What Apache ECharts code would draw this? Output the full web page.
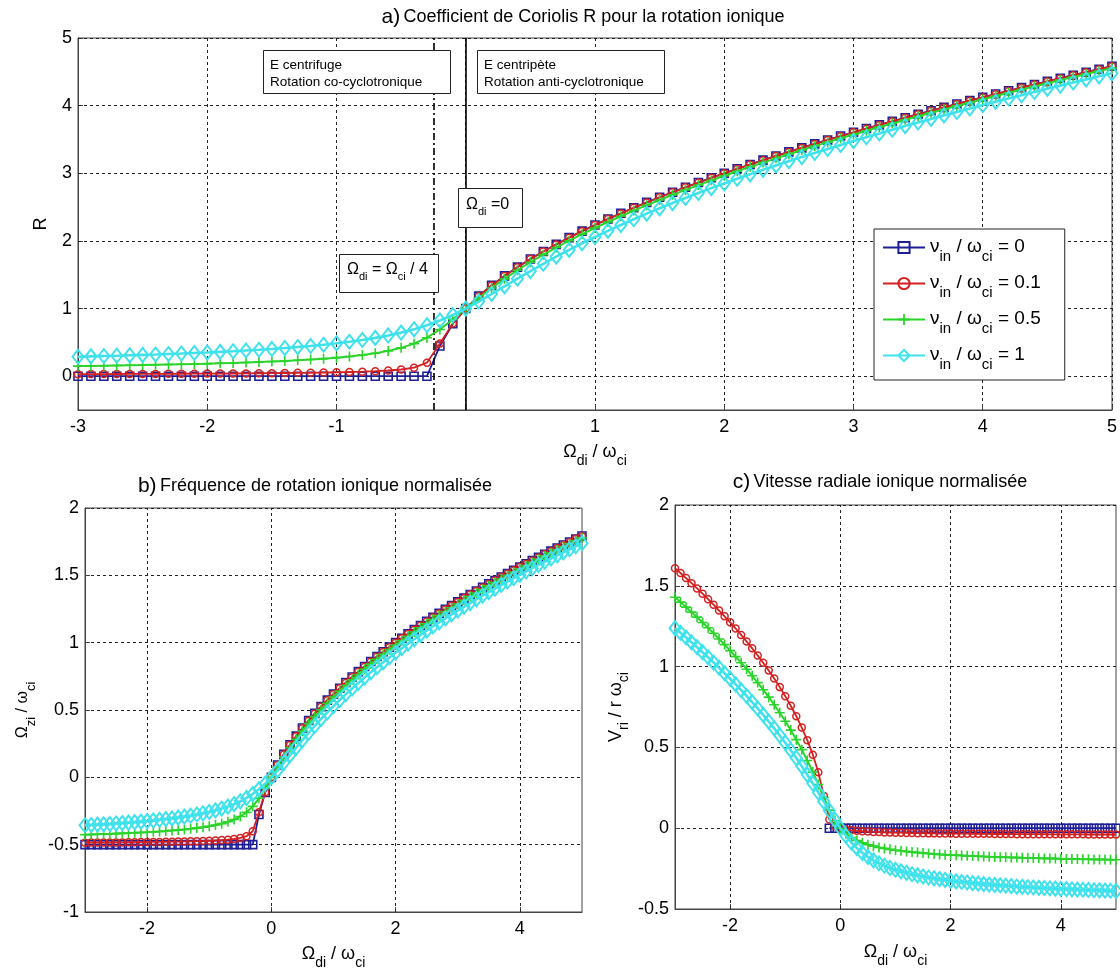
<!DOCTYPE html>
<html><head><meta charset="utf-8">
<script src="https://cdn.jsdelivr.net/npm/echarts@6/dist/echarts.min.js"></script>
<style>html,body{margin:0;padding:0;background:#fff}#c{width:1120px;height:972px}</style>
</head><body><div id="c"></div>
<script>
// ---------------- DATA ----------------
const xs = [-3,-2.9,-2.8,-2.7,-2.6,-2.5,-2.4,-2.3,-2.2,-2.1,-2,-1.9,-1.8,-1.7,-1.6,-1.5,-1.4,-1.3,-1.2,-1.1,-1,-0.9,-0.8,-0.7,-0.6,-0.5,-0.4,-0.3,-0.2,-0.1,0,0.1,0.2,0.3,0.4,0.5,0.6,0.7,0.8,0.9,1,1.1,1.2,1.3,1.4,1.5,1.6,1.7,1.8,1.9,2,2.1,2.2,2.3,2.4,2.5,2.6,2.7,2.8,2.9,3,3.1,3.2,3.3,3.4,3.5,3.6,3.7,3.8,3.9,4,4.1,4.2,4.3,4.4,4.5,4.6,4.7,4.8,4.9,5];

const legendValues = ['0', '0.1', '0.5', '1'];

// a) Coriolis coefficient R
const R_nu0 = [0,0,0,0,0,0,0,0,0,0, 0,0,0,0,0,0,0,0,0,0, 0,0,0,0,0,0,0,0,0.447,0.775, 1,
 1.183,1.342,1.483,1.612,1.732,1.844,1.949,2.049,2.145,2.236, 2.324,2.408,2.490,2.569,2.646,2.720,2.793,2.864,2.933,3.000,
 3.066,3.130,3.194,3.256,3.317,3.376,3.435,3.493,3.550,3.606, 3.661,3.715,3.768,3.821,3.873,3.924,3.975,4.025,4.074,4.123,
 4.171,4.219,4.266,4.313,4.359,4.405,4.450,4.494,4.539,4.583];
const R_nu01 = [0.030,0.031,0.031,0.032,0.033,0.033,0.034,0.035,0.036,0.037, 0.038,0.039,0.040,0.041,0.043,0.045,0.047,0.049,0.051,0.054,
 0.058,0.062,0.067,0.074,0.084,0.099,0.126,0.200,0.483,0.779, 1.000,
 1.182,1.341,1.482,1.611,1.731,1.843,1.948,2.048,2.144,2.235, 2.323,2.407,2.489,2.568,2.645,2.719,2.792,2.863,2.932,2.999,
 3.065,3.129,3.193,3.255,3.316,3.375,3.434,3.492,3.549,3.605, 3.660,3.714,3.767,3.820,3.872,3.923,3.974,4.024,4.073,4.122,
 4.170,4.218,4.265,4.312,4.358,4.404,4.449,4.493,4.538,4.582];
const R_nu05 = [0.149,0.152,0.155,0.158,0.161,0.164,0.168,0.172,0.176,0.180, 0.185,0.191,0.196,0.203,0.210,0.217,0.226,0.236,0.247,0.259,
 0.274,0.292,0.313,0.340,0.374,0.419,0.481,0.569,0.690,0.840, 1.000,
 1.156,1.303,1.439,1.566,1.685,1.797,1.902,2.003,2.099,2.191, 2.280,2.365,2.448,2.528,2.605,2.681,2.754,2.825,2.895,2.963,
 3.029,3.095,3.158,3.221,3.282,3.343,3.402,3.460,3.517,3.574, 3.629,3.684,3.737,3.790,3.843,3.894,3.945,3.996,4.045,4.095,
 4.143,4.191,4.238,4.285,4.332,4.378,4.423,4.468,4.513,4.557];
const R_nu1 = [0.288,0.293,0.298,0.303,0.309,0.315,0.321,0.328,0.335,0.343, 0.351,0.360,0.369,0.380,0.391,0.403,0.416,0.431,0.447,0.465,
 0.486,0.509,0.536,0.566,0.602,0.644,0.693,0.753,0.823,0.905, 1.000,
 1.104,1.215,1.329,1.442,1.554,1.662,1.767,1.867,1.965,2.058, 2.149,2.236,2.321,2.403,2.482,2.560,2.635,2.709,2.780,2.850,
 2.919,2.985,3.051,3.115,3.178,3.240,3.300,3.360,3.418,3.476, 3.533,3.589,3.644,3.698,3.751,3.804,3.856,3.907,3.958,4.008,
 4.057,4.106,4.154,4.202,4.249,4.296,4.342,4.388,4.433,4.478];

// b) normalized ion rotation frequency
const Om_nu0 = [-0.5,-0.5,-0.5,-0.5,-0.5,-0.5,-0.5,-0.5,-0.5,-0.5, -0.5,-0.5,-0.5,-0.5,-0.5,-0.5,-0.5,-0.5,-0.5,-0.5,
 -0.5,-0.5,-0.5,-0.5,-0.5,-0.5,-0.5,-0.5,-0.276,-0.113, 0,
 0.092,0.171,0.242,0.306,0.366,0.422,0.475,0.525,0.573,0.618, 0.662,0.704,0.745,0.785,0.823,0.860,0.897,0.932,0.967,1.000,
 1.033,1.065,1.097,1.128,1.159,1.188,1.218,1.247,1.275,1.303, 1.331,1.358,1.384,1.411,1.437,1.462,1.488,1.513,1.537,1.562,
 1.586,1.610,1.633,1.657,1.680,1.703,1.725,1.747,1.770,1.792];
const Om_nu01 = [-0.485,-0.484,-0.484,-0.484,-0.484,-0.483,-0.483,-0.482,-0.482,-0.481, -0.481,-0.480,-0.480,-0.479,-0.478,-0.477,-0.476,-0.475,-0.474,-0.473,
 -0.471,-0.469,-0.466,-0.463,-0.458,-0.450,-0.437,-0.400,-0.259,-0.111, 0,
 0.091,0.170,0.241,0.305,0.365,0.421,0.474,0.524,0.572,0.617, 0.661,0.703,0.744,0.784,0.822,0.859,0.896,0.931,0.966,0.999,
 1.032,1.064,1.096,1.127,1.158,1.187,1.217,1.246,1.274,1.302, 1.330,1.357,1.383,1.410,1.436,1.461,1.487,1.512,1.536,1.561,
 1.585,1.609,1.632,1.656,1.679,1.702,1.724,1.746,1.769,1.791];
const Om_nu05 = [-0.426,-0.424,-0.423,-0.421,-0.420,-0.418,-0.416,-0.414,-0.412,-0.410, -0.408,-0.405,-0.402,-0.399,-0.395,-0.392,-0.387,-0.382,-0.377,-0.371,
 -0.363,-0.354,-0.344,-0.330,-0.313,-0.291,-0.260,-0.216,-0.155,-0.080, 0,
 0.078,0.152,0.220,0.283,0.343,0.399,0.451,0.502,0.550,0.596, 0.640,0.683,0.724,0.764,0.803,0.841,0.877,0.913,0.948,0.982,
 1.015,1.048,1.079,1.111,1.141,1.172,1.201,1.230,1.259,1.287, 1.315,1.342,1.369,1.395,1.422,1.447,1.473,1.498,1.523,1.548,
 1.572,1.596,1.619,1.643,1.666,1.689,1.712,1.734,1.757,1.779];
const Om_nu1 = [-0.356,-0.354,-0.351,-0.349,-0.346,-0.343,-0.340,-0.336,-0.333,-0.329, -0.325,-0.320,-0.315,-0.310,-0.305,-0.299,-0.292,-0.285,-0.276,-0.267,
 -0.257,-0.246,-0.232,-0.217,-0.199,-0.178,-0.153,-0.124,-0.089,-0.047, 0,
 0.052,0.108,0.165,0.221,0.277,0.331,0.383,0.434,0.482,0.529, 0.574,0.618,0.660,0.701,0.741,0.780,0.818,0.854,0.890,0.925,
 0.959,0.993,1.025,1.058,1.089,1.120,1.150,1.180,1.209,1.238, 1.266,1.294,1.322,1.349,1.376,1.402,1.428,1.454,1.479,1.504,
 1.529,1.553,1.577,1.601,1.625,1.648,1.671,1.694,1.716,1.739];

// c) normalized ion radial velocity
const Vr_nu0 = [null,null,null,null,null,null,null,null,null,null, null,null,null,null,null,null,null,null,null,null,
 null,null,null,null,null,null,null,null,0,0, 0,
 0,0,0,0,0,0,0,0,0,0, 0,0,0,0,0,0,0,0,0,0, 0,0,0,0,0,0,0,0,0,0, 0,0,0,0,0,0,0,0,0,0, 0,0,0,0,0,0,0,0,0,0];
const Vr_nu01 = [1.609,1.579,1.548,1.516,1.484,1.451,1.417,1.383,1.347,1.311, 1.274,1.236,1.196,1.155,1.113,1.069,1.024,0.976,0.926,0.873,
 0.817,0.758,0.693,0.623,0.545,0.455,0.346,0.200,0.054,0.014, 0,
 -0.008,-0.013,-0.016,-0.019,-0.021,-0.023,-0.024,-0.026,-0.027,-0.028, -0.028,-0.029,-0.030,-0.031,-0.031,-0.032,-0.032,-0.033,-0.033,-0.033,
 -0.034,-0.034,-0.034,-0.035,-0.035,-0.035,-0.035,-0.036,-0.036,-0.036, -0.036,-0.037,-0.037,-0.037,-0.037,-0.037,-0.037,-0.038,-0.038,-0.038,
 -0.038,-0.038,-0.038,-0.038,-0.039,-0.039,-0.039,-0.039,-0.039,-0.039];
const Vr_nu05 = [1.429,1.399,1.368,1.337,1.306,1.273,1.240,1.206,1.171,1.136, 1.099,1.062,1.024,0.984,0.943,0.901,0.857,0.811,0.764,0.714,
 0.662,0.607,0.548,0.486,0.419,0.347,0.270,0.190,0.112,0.048, 0,
 -0.034,-0.058,-0.076,-0.090,-0.102,-0.111,-0.119,-0.125,-0.131,-0.136, -0.140,-0.144,-0.148,-0.151,-0.154,-0.157,-0.159,-0.162,-0.164,-0.166,
 -0.167,-0.169,-0.171,-0.172,-0.174,-0.175,-0.177,-0.178,-0.179,-0.180, -0.181,-0.182,-0.183,-0.184,-0.185,-0.186,-0.187,-0.187,-0.188,-0.189,
 -0.190,-0.190,-0.191,-0.192,-0.192,-0.193,-0.193,-0.194,-0.195,-0.195];
const Vr_nu1 = [1.238,1.209,1.180,1.150,1.120,1.089,1.058,1.025,0.993,0.959, 0.925,0.890,0.854,0.818,0.780,0.741,0.701,0.660,0.618,0.574,
 0.529,0.482,0.434,0.383,0.331,0.277,0.221,0.164,0.108,0.052, 0,
 -0.047,-0.089,-0.124,-0.153,-0.178,-0.199,-0.217,-0.232,-0.246,-0.257, -0.267,-0.276,-0.285,-0.292,-0.299,-0.305,-0.310,-0.315,-0.320,-0.325,
 -0.329,-0.333,-0.336,-0.340,-0.343,-0.346,-0.349,-0.351,-0.354,-0.356, -0.358,-0.361,-0.363,-0.365,-0.367,-0.369,-0.370,-0.372,-0.374,-0.375,
 -0.377,-0.378,-0.380,-0.381,-0.382,-0.384,-0.385,-0.386,-0.387,-0.388];

// tick labels
const xTicksA = [-3,-2,-1,0,1,2,3,4,5];
const yTicksA = [0,1,2,3,4,5];
const xTicksBC = [-2,0,2,4];
// annotation lines (panel a)
const lineOmegaZero = 0;
const lineOmegaQuarter = -0.25;

// ---------------- CHART ----------------
const F = "'Liberation Sans', Arial, Helvetica, sans-serif";
const PLUS = 'path://M4.2,0H5.8V4.2H10V5.8H5.8V10H4.2V5.8H0V4.2H4.2Z';
const styles = [
  {color:'#1e1e98', symbol:'rect', size:8, lw:1.8, fill:'rgba(255,255,255,0)', bw:1.6},
  {color:'#d42020', symbol:'circle', size:7, lw:1.8, fill:'rgba(255,255,255,0)', bw:1.5},
  {color:'#2ad42a', symbol:PLUS, size:10, lw:2, fill:'#2ad42a', bw:0},
  {color:'#3ee2ec', symbol:'diamond', size:[11,14], lw:2.6, fill:'rgba(255,255,255,0)', bw:2}
];
const names = ['s0','s1','s2','s3'];
const panels = [
  [R_nu0, R_nu01, R_nu05, R_nu1],
  [Om_nu0, Om_nu01, Om_nu05, Om_nu1],
  [Vr_nu0, Vr_nu01, Vr_nu05, Vr_nu1]
];

const subRich = (m, s, pad) => ({
  m: {fontSize: m, fontFamily: F, color: '#000', lineHeight: m + 2, verticalAlign: 'top'},
  s: {fontSize: s, fontFamily: F, color: '#000', lineHeight: s, padding: [pad, 0, 0, 0], verticalAlign: 'top'}
});
const xName = '{m|Ω}{s|di}{m| / ω}{s|ci}';

const gridLineStyle = {color: '#222', type: [3, 3], width: 1};
const axisCommon = {
  axisLine: {show: true, onZero: false, lineStyle: {color: '#444', width: 1}},
  axisTick: {show: true, inside: true, length: 5, lineStyle: {color: '#444'}},
  axisLabel: {color: '#000', fontSize: 18, fontFamily: F, margin: 8}
};

function mkGridSeries(gi, xv, yv) {
  const d = [];
  xv.forEach(v => d.push({xAxis: v}));
  yv.forEach(v => d.push({yAxis: v}));
  return {
    type: 'line', xAxisIndex: gi, yAxisIndex: gi, data: [], silent: true, z: 1,
    markLine: {silent: true, z: 1, symbol: ['none', 'none'], label: {show: false},
      lineStyle: gridLineStyle, emphasis: {disabled: true}, animation: false, data: d}
  };
}

const series = [];
series.push(mkGridSeries(0, [], yTicksA));
series.push(mkGridSeries(1, xTicksBC, []));
series.push(mkGridSeries(2, xTicksBC, []));
series.push({
  type: 'line', xAxisIndex: 0, yAxisIndex: 0, data: [], silent: true, z: 1,
  markLine: {silent: true, z: 3, symbol: ['none', 'none'], label: {show: false}, animation: false,
    emphasis: {disabled: true},
    data: [
      {xAxis: lineOmegaZero, lineStyle: {color: '#000', type: 'solid', width: 1.6}},
      {xAxis: lineOmegaQuarter, lineStyle: {color: '#000', type: [7, 3, 2, 3], width: 1.6}}
    ]}
});
panels.forEach((arrs, gi) => {
  arrs.forEach((ys, k) => {
    const st = styles[k];
    series.push({
      name: names[k], type: 'line', xAxisIndex: gi, yAxisIndex: gi,
      data: xs.map((x, i) => [x, ys[i]]),
      symbol: st.symbol, symbolSize: st.size, showSymbol: true, clip: false,
      color: st.color,
      lineStyle: {color: st.color, width: st.lw},
      itemStyle: {color: st.fill, borderColor: st.color, borderWidth: st.bw},
      emphasis: {disabled: true}, animation: false, z: 2 + k
    });
  });
});

const gridBox = {show: true, borderColor: '#444', borderWidth: 1, backgroundColor: 'rgba(0,0,0,0)'};

const option = {
  backgroundColor: '#fff',
  animation: false,
  grid: [
    Object.assign({left: 78, top: 38, width: 1038, height: 372}, gridBox),
    Object.assign({left: 85, top: 508, width: 497, height: 404}, gridBox),
    Object.assign({left: 675, top: 505, width: 441, height: 404}, gridBox)
  ],
  xAxis: [
    Object.assign({}, axisCommon, {gridIndex: 0, type: 'value', min: -3, max: 5, interval: 1,
      axisLabel: Object.assign({}, axisCommon.axisLabel, {formatter: v => (v === 0 ? '' : String(v))}),
      splitLine: {show: true, lineStyle: gridLineStyle},
      name: xName, nameLocation: 'middle', nameGap: 33, nameTextStyle: {rich: subRich(18, 14, 11)}}),
    Object.assign({}, axisCommon, {gridIndex: 1, type: 'value', min: -3, max: 5,
      axisLabel: Object.assign({}, axisCommon.axisLabel, {customValues: xTicksBC}),
      axisTick: Object.assign({}, axisCommon.axisTick, {customValues: xTicksBC}),
      splitLine: {show: false},
      name: xName, nameLocation: 'middle', nameGap: 33, nameTextStyle: {rich: subRich(18, 14, 11)}}),
    Object.assign({}, axisCommon, {gridIndex: 2, type: 'value', min: -3, max: 5,
      axisLabel: Object.assign({}, axisCommon.axisLabel, {customValues: xTicksBC}),
      axisTick: Object.assign({}, axisCommon.axisTick, {customValues: xTicksBC}),
      splitLine: {show: false},
      name: xName, nameLocation: 'middle', nameGap: 34, nameTextStyle: {rich: subRich(18, 14, 11)}})
  ],
  yAxis: [
    Object.assign({}, axisCommon, {gridIndex: 0, type: 'value', min: -0.5, max: 5,
      axisLabel: Object.assign({}, axisCommon.axisLabel, {customValues: yTicksA, margin: 6}),
      axisTick: Object.assign({}, axisCommon.axisTick, {customValues: yTicksA}),
      splitLine: {show: false},
      name: 'R', nameLocation: 'middle', nameGap: 28, nameRotate: 90,
      nameTextStyle: {fontSize: 18, fontFamily: F, color: '#000'}}),
    Object.assign({}, axisCommon, {gridIndex: 1, type: 'value', min: -1, max: 2, interval: 0.5,
      axisLabel: Object.assign({}, axisCommon.axisLabel, {margin: 6}),
      splitLine: {show: true, lineStyle: gridLineStyle},
      name: '{m|Ω}{s|zi}{m| / ω}{s|ci}', nameLocation: 'middle', nameGap: 52, nameRotate: 90,
      nameTextStyle: {rich: subRich(16, 13, 10)}}),
    Object.assign({}, axisCommon, {gridIndex: 2, type: 'value', min: -0.5, max: 2, interval: 0.5,
      axisLabel: Object.assign({}, axisCommon.axisLabel, {margin: 6}),
      splitLine: {show: true, lineStyle: gridLineStyle},
      name: '{m|V}{s|ri}{m| / r ω}{s|ci}', nameLocation: 'middle', nameGap: 48, nameRotate: 90,
      nameTextStyle: {rich: subRich(18, 14, 10)}})
  ],
  legend: {
    data: names, orient: 'vertical', left: 874, top: 229,
    itemWidth: 42, itemHeight: 14, itemGap: 9, itemTextGap: 5,
    padding: [8, 24, 8, 8],
    backgroundColor: '#fff', borderColor: '#222', borderWidth: 1,
    selectedMode: false, z: 20,
    formatter: n => '{m|ν}{s|in}{m| / ω}{s|ci}{m| = ' + legendValues[names.indexOf(n)] + '}',
    textStyle: {rich: subRich(19, 15, 12)}
  },
  graphic: [
    {type: 'text', x: 583, y: 17, z: 50, style: {
      text: '{h|a)} {t|Coefficient de Coriolis R pour la rotation ionique}',
      rich: {h: {fontSize: 21, fontFamily: F, fill: '#000'}, t: {fontSize: 18, fontFamily: F, fill: '#000'}},
      align: 'center', verticalAlign: 'middle', textAlign: 'center', textVerticalAlign: 'middle'}},
    {type: 'text', x: 315, y: 486, z: 50, style: {
      text: '{h|b)} {t|Fréquence de rotation ionique normalisée}',
      rich: {h: {fontSize: 21, fontFamily: F, fill: '#000'}, t: {fontSize: 18, fontFamily: F, fill: '#000'}},
      align: 'center', verticalAlign: 'middle', textAlign: 'center', textVerticalAlign: 'middle'}},
    {type: 'text', x: 880, y: 482, z: 50, style: {
      text: '{h|c)} {t|Vitesse radiale ionique normalisée}',
      rich: {h: {fontSize: 21, fontFamily: F, fill: '#000'}, t: {fontSize: 18, fontFamily: F, fill: '#000'}},
      align: 'center', verticalAlign: 'middle', textAlign: 'center', textVerticalAlign: 'middle'}},
    // annotation boxes
    {type: 'rect', z: 40, shape: {x: 263.5, y: 50.5, width: 187, height: 43}, style: {fill: '#fff', stroke: '#222', lineWidth: 1}},
    {type: 'text', z: 41, x: 270, y: 57, style: {text: 'E centrifuge\nRotation co-cyclotronique', font: '13.5px ' + F, fill: '#000', lineHeight: 17, align: 'left', verticalAlign: 'top', textAlign: 'left', textVerticalAlign: 'top'}},
    {type: 'rect', z: 40, shape: {x: 477.5, y: 50.5, width: 187, height: 43}, style: {fill: '#fff', stroke: '#222', lineWidth: 1}},
    {type: 'text', z: 41, x: 484, y: 57, style: {text: 'E centripète\nRotation anti-cyclotronique', font: '13.5px ' + F, fill: '#000', lineHeight: 17, align: 'left', verticalAlign: 'top', textAlign: 'left', textVerticalAlign: 'top'}},
    {type: 'rect', z: 40, shape: {x: 458.5, y: 188.5, width: 64, height: 39}, style: {fill: '#fff', stroke: '#222', lineWidth: 1}},
    {type: 'text', z: 41, x: 466, y: 197, style: {text: '{m|Ω}{s|di}{m| =0}', rich: subRich(16, 11, 9), align: 'left', verticalAlign: 'top', textAlign: 'left', textVerticalAlign: 'top'}},
    {type: 'rect', z: 40, shape: {x: 339.5, y: 254.5, width: 99, height: 38}, style: {fill: '#fff', stroke: '#222', lineWidth: 1}},
    {type: 'text', z: 41, x: 347, y: 262, style: {text: '{m|Ω}{s|di}{m| = Ω}{s|ci}{m| / 4}', rich: subRich(16, 11, 9), align: 'left', verticalAlign: 'top', textAlign: 'left', textVerticalAlign: 'top'}}
  ],
  series: series
};

const chart = echarts.init(document.getElementById('c'), null, {renderer: 'canvas'});
chart.setOption(option);
</script>
</body></html>
